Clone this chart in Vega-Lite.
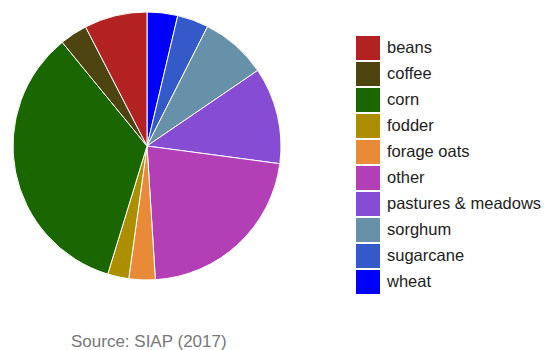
{
  "$schema": "https://vega.github.io/schema/vega-lite/v6.json",
  "width": 294,
  "height": 292,
  "padding": 0,
  "background": "white",
  "title": {
    "text": "Source: SIAP (2017)",
    "orient": "bottom",
    "anchor": "start",
    "frame": "group",
    "dx": 71,
    "offset": 40,
    "font": "Liberation Sans",
    "fontSize": 17,
    "fontWeight": "normal",
    "color": "#777777"
  },
  "data": {
    "values": [
      {"crop": "wheat", "share": 3.69, "ord": 1},
      {"crop": "sugarcane", "share": 3.78, "ord": 2},
      {"crop": "sorghum", "share": 8.0, "ord": 3},
      {"crop": "pastures & meadows", "share": 11.64, "ord": 4},
      {"crop": "other", "share": 21.9, "ord": 5},
      {"crop": "forage oats", "share": 3.17, "ord": 6},
      {"crop": "fodder", "share": 2.56, "ord": 7},
      {"crop": "corn", "share": 34.36, "ord": 8},
      {"crop": "coffee", "share": 3.33, "ord": 9},
      {"crop": "beans", "share": 7.58, "ord": 10}
    ]
  },
  "mark": {"type": "arc", "outerRadius": 134, "stroke": "white", "strokeWidth": 1},
  "encoding": {
    "theta": {"field": "share", "type": "quantitative", "stack": true},
    "order": {"field": "ord", "type": "quantitative"},
    "color": {
      "field": "crop",
      "type": "nominal",
      "scale": {
        "domain": ["beans", "coffee", "corn", "fodder", "forage oats", "other", "pastures & meadows", "sorghum", "sugarcane", "wheat"],
        "range": ["#b22222", "#4e4410", "#1a6600", "#ab8f00", "#e88a38", "#b33fb6", "#874cd4", "#6691a8", "#3459c9", "#0000ff"]
      },
      "legend": {
        "title": null,
        "orient": "none",
        "legendX": 356,
        "legendY": 36,
        "padding": 0,
        "symbolType": "square",
        "symbolSize": 576,
        "symbolStrokeWidth": 0,
        "symbolOpacity": 1,
        "rowPadding": 2,
        "labelOffset": 7,
        "labelFont": "Liberation Sans",
        "labelFontSize": 16.5,
        "labelColor": "#222222",
        "labelLimit": 300
      }
    }
  },
  "config": {"view": {"stroke": null}}
}
